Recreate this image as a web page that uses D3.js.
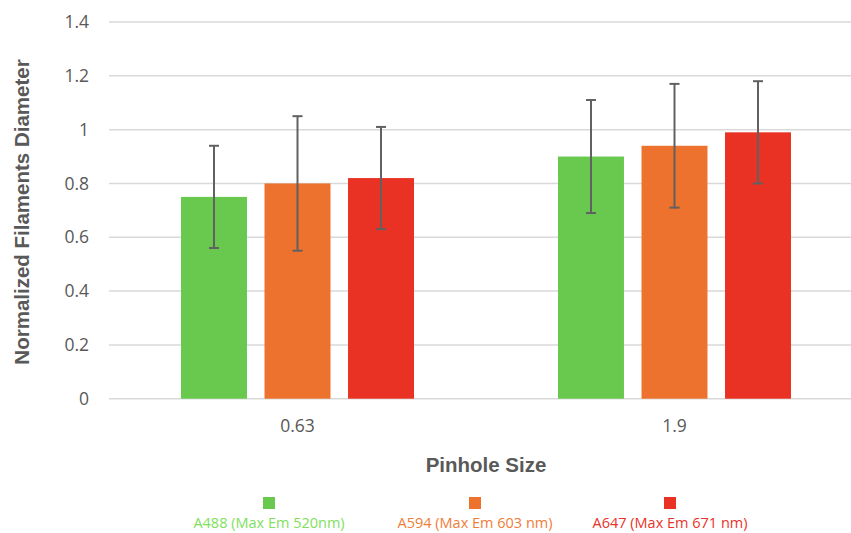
<!DOCTYPE html>
<html>
<head>
	<meta charset="utf-8">
	<title>Pinhole Size</title>
	<style type="text/css">
body {
  margin: 0;
  background: #fff;
}

text {
  font-family: "Open Sans", "Noto Sans", sans-serif;
}

.grid line {
  stroke: #d9d9d9;
  stroke-width: 1.5px;
}

.err line {
  stroke: #616161;
  stroke-width: 2px;
}
	</style>
</head>
<body>
	<svg width="851" height="533"></svg>

	<script src="https://cdn.jsdelivr.net/npm/d3@7"></script>
	<script type="text/javascript">
		// values
		var categories = ["0.63", "1.9"]
		var seriesNames = ["A488 (Max Em 520nm)", "A594 (Max Em 603 nm)", "A647 (Max Em 671 nm)"]
		var seriesColors = ["#69c94e", "#ec722d", "#e93224"]
		var labelColors = ["#7fe05c", "#ef7d38", "#e8332a"]
		var a488 = [0.75, 0.90]
		var a594 = [0.80, 0.94]
		var a647 = [0.82, 0.99]
		var a488Err = [0.19, 0.21]
		var a594Err = [0.25, 0.23]
		var a647Err = [0.19, 0.19]
		var yTicks = [0, 0.2, 0.4, 0.6, 0.8, 1, 1.2, 1.4]

		var values = [a488, a594, a647]
		var errs = [a488Err, a594Err, a647Err]

		var svg = d3.select("svg"),
		    width = +svg.attr("width"),
		    height = +svg.attr("height");

		var plotLeft = 109, plotTop = 22, plotBottom = 398.7
		// plot area runs past the right edge of the picture
		var plotRight = 863

		var y = d3.scaleLinear().domain([0, 1.4]).range([plotBottom, plotTop])

		var x0 = d3.scaleBand()
		    .domain(categories)
		    .range([plotLeft, plotRight])
		    .paddingInner(0.382)
		    .paddingOuter(0.191)

		var x1 = d3.scaleBand()
		    .domain(d3.range(seriesNames.length))
		    .range([0, x0.bandwidth()])
		    .paddingInner(0.21)

		// gridlines
		svg.append("g")
		    .attr("class", "grid")
		  .selectAll("line")
		  .data(yTicks)
		  .enter().append("line")
		    .attr("x1", plotLeft)
		    .attr("x2", width)
		    .attr("y1", function(d) { return y(d); })
		    .attr("y2", function(d) { return y(d); })

		// y axis labels
		var yAxis = d3.axisLeft(y).tickValues(yTicks).tickSize(0).tickPadding(0)
		    .tickFormat(function(d) { return String(+d.toFixed(1)); })
		var ya = svg.append("g")
		    .attr("transform", "translate(89,0)")
		    .call(yAxis)
		ya.select(".domain").remove()
		ya.selectAll("text")
		    .attr("fill", "#595959")
		    .style("font-size", "17.5px")
		    .style("font-family", "'Open Sans', sans-serif")

		// x axis labels
		var xAxis = d3.axisBottom(x0).tickSize(0).tickPadding(0)
		var xa = svg.append("g")
		    .attr("transform", "translate(0,420)")
		    .call(xAxis)
		xa.select(".domain").remove()
		xa.selectAll("text")
		    .attr("fill", "#595959")
		    .style("font-size", "17.5px")
		    .style("font-family", "'Open Sans', sans-serif")

		// bars
		var rows = []
		categories.forEach(function(c, i) {
			seriesNames.forEach(function(s, j) {
				rows.push({cat: c, s: j, v: values[j][i], e: errs[j][i]})
			})
		})

		svg.append("g")
		  .selectAll("rect")
		  .data(rows)
		  .enter().append("rect")
		    .attr("x", function(d) { return x0(d.cat) + x1(d.s); })
		    .attr("y", function(d) { return y(d.v); })
		    .attr("width", x1.bandwidth())
		    .attr("height", function(d) { return y(0) - y(d.v); })
		    .attr("fill", function(d) { return seriesColors[d.s]; })

		// error bars
		var err = svg.append("g")
		    .attr("class", "err")
		  .selectAll("g")
		  .data(rows)
		  .enter().append("g")
		    .attr("transform", function(d) {
		      return "translate(" + (x0(d.cat) + x1(d.s) + x1.bandwidth() / 2) + ",0)";
		    })
		err.append("line")
		    .attr("y1", function(d) { return y(d.v + d.e); })
		    .attr("y2", function(d) { return y(d.v - d.e); })
		err.append("line")
		    .attr("x1", -5).attr("x2", 5)
		    .attr("y1", function(d) { return y(d.v + d.e); })
		    .attr("y2", function(d) { return y(d.v + d.e); })
		err.append("line")
		    .attr("x1", -5).attr("x2", 5)
		    .attr("y1", function(d) { return y(d.v - d.e); })
		    .attr("y2", function(d) { return y(d.v - d.e); })

		// axis titles
		svg.append("text")
		    .attr("x", 486)
		    .attr("y", 472)
		    .attr("text-anchor", "middle")
		    .attr("fill", "#595959")
		    .style("font-family", "'Liberation Sans', Arial, sans-serif")
		    .style("font-weight", "bold")
		    .style("font-size", "20.5px")
		    .text("Pinhole Size")

		svg.append("text")
		    .attr("transform", "translate(29,212) rotate(-90)")
		    .attr("text-anchor", "middle")
		    .attr("fill", "#595959")
		    .style("font-family", "'Liberation Sans', Arial, sans-serif")
		    .style("font-weight", "bold")
		    .style("font-size", "20.5px")
		    .text("Normalized Filaments Diameter")

		// legend
		var legendX = [269, 475, 670]
		var leg = svg.append("g")
		  .selectAll("g")
		  .data(seriesNames)
		  .enter().append("g")
		    .attr("transform", function(d, i) { return "translate(" + legendX[i] + ",0)"; })
		leg.append("rect")
		    .attr("x", -6).attr("y", 497)
		    .attr("width", 12).attr("height", 12)
		    .attr("fill", function(d, i) { return seriesColors[i]; })
		leg.append("text")
		    .attr("y", 528)
		    .attr("text-anchor", "middle")
		    .attr("fill", function(d, i) { return labelColors[i]; })
		    .style("font-size", "14.5px")
		    .text(function(d) { return d; })
	</script>
</body>
</html>
